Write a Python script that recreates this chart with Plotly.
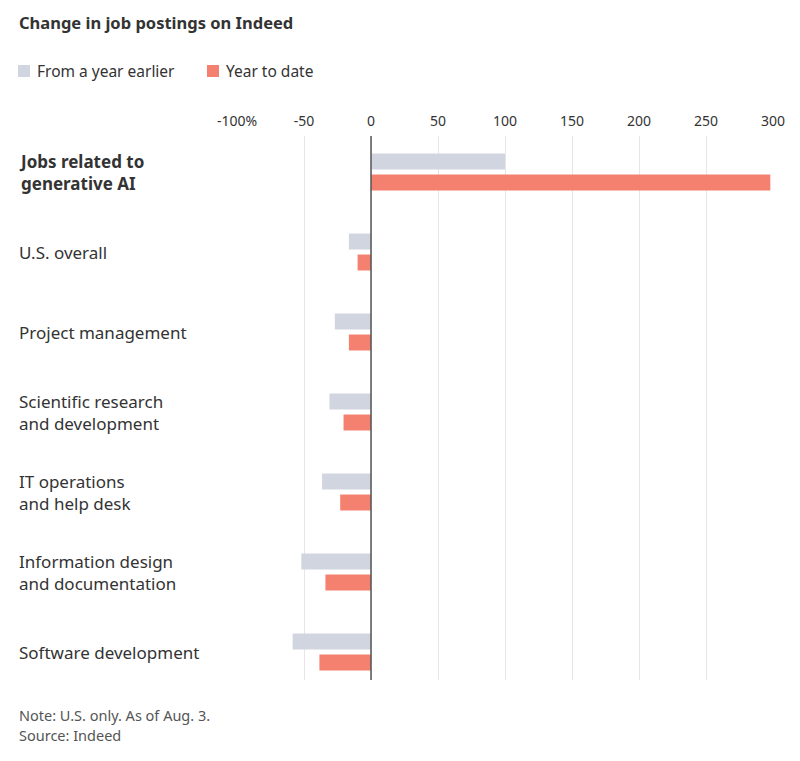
import plotly.graph_objects as go

categories = ["Jobs related to<br>generative AI", "U.S. overall", "Project management",
              "Scientific research<br>and development", "IT operations<br>and help desk",
              "Information design<br>and documentation", "Software development"]
from_year_earlier = [100, -16.5, -27, -31, -36.5, -52, -58.5]
year_to_date = [298, -10, -16.5, -20.5, -23, -34, -38.5]
series_names = ["From a year earlier", "Year to date"]
series_colors = ["#d1d5df", "#f4816f"]
tick_vals = [-100, -50, 0, 50, 100, 150, 200, 250, 300]
tick_text = ["-100%", "-50", "0", "50", "100", "150", "200", "250", "300"]

OFF = 8  # page body offset
W, H = 800 - OFF, 761 - OFF
L, T = 237 - OFF, 136 - OFF
R = W - (773 - OFF)
B = H - (680 - OFF)
PW, PH = W - L - R, H - T - B

def px(x):
    return (x - OFF - L) / PW

def py(y):
    return (T + PH - (y - OFF)) / PH

FONT = "Noto Sans"
TXT = "#333333"

fig = go.Figure()
ys = list(range(len(categories)))
for vals, name, col in zip([from_year_earlier, year_to_date], series_names, series_colors):
    fig.add_trace(go.Bar(y=ys, x=vals, orientation="h", name=name,
                         marker=dict(color=col, line=dict(width=0)),
                         showlegend=False, hoverinfo="x+name"))

annotations = []
for i, c in enumerate(categories):
    annotations.append(dict(xref="paper", yref="y", x=px(17), y=i, text=(f"<b>{c}</b>" if i == 0 else c),
                            xanchor="left", yanchor="middle", align="left", showarrow=False,
                            font=dict(family=FONT, size=17, color=TXT)))

# title
annotations.append(dict(xref="paper", yref="paper", x=px(17), y=py(23), text="<b>Change in job postings on Indeed</b>",
                        xanchor="left", yanchor="middle", showarrow=False,
                        font=dict(family=FONT, size=16.5, color=TXT)))
# legend
shapes = []
leg_x = [18, 207]
for lx, name, col in zip(leg_x, series_names, series_colors):
    shapes.append(dict(type="rect", xref="paper", yref="paper", x0=px(lx), x1=px(lx + 12),
                       y0=py(77), y1=py(65), fillcolor=col, line=dict(width=0)))
    annotations.append(dict(xref="paper", yref="paper", x=px(lx + 17), y=py(71), text=name,
                            xanchor="left", yanchor="middle", showarrow=False,
                            font=dict(family=FONT, size=15.5, color=TXT)))
# zero line
shapes.append(dict(type="line", xref="x", yref="paper", x0=0, x1=0, y0=0, y1=1,
                   line=dict(color="#555555", width=1.5)))
# notes
annotations.append(dict(xref="paper", yref="paper", x=px(17), y=py(715), text="Note: U.S. only. As of Aug. 3.",
                        xanchor="left", yanchor="middle", showarrow=False,
                        font=dict(family=FONT, size=14.5, color="#555555")))
annotations.append(dict(xref="paper", yref="paper", x=px(17), y=py(735), text="Source: Indeed",
                        xanchor="left", yanchor="middle", showarrow=False,
                        font=dict(family=FONT, size=14.5, color="#555555")))

fig.update_layout(
    width=W, height=H, margin=dict(l=L, r=R, t=T, b=B, pad=0),
    paper_bgcolor="white", plot_bgcolor="white",
    barmode="group", bargap=0.475, bargroupgap=0.24,
    annotations=annotations, shapes=shapes, showlegend=False,
    xaxis=dict(range=[-100, 300], side="top", tickvals=tick_vals, ticktext=tick_text,
               showgrid=True, gridcolor="#e6e6e6", gridwidth=1, zeroline=False,
               showline=False, ticks="", ticklabelstandoff=6,
               tickfont=dict(family=FONT, size=14, color=TXT), fixedrange=True),
    yaxis=dict(range=[6.35, -0.45], showticklabels=False, showgrid=False, zeroline=False,
               showline=False, ticks="", fixedrange=True),
)

fig.write_html("out.html")
